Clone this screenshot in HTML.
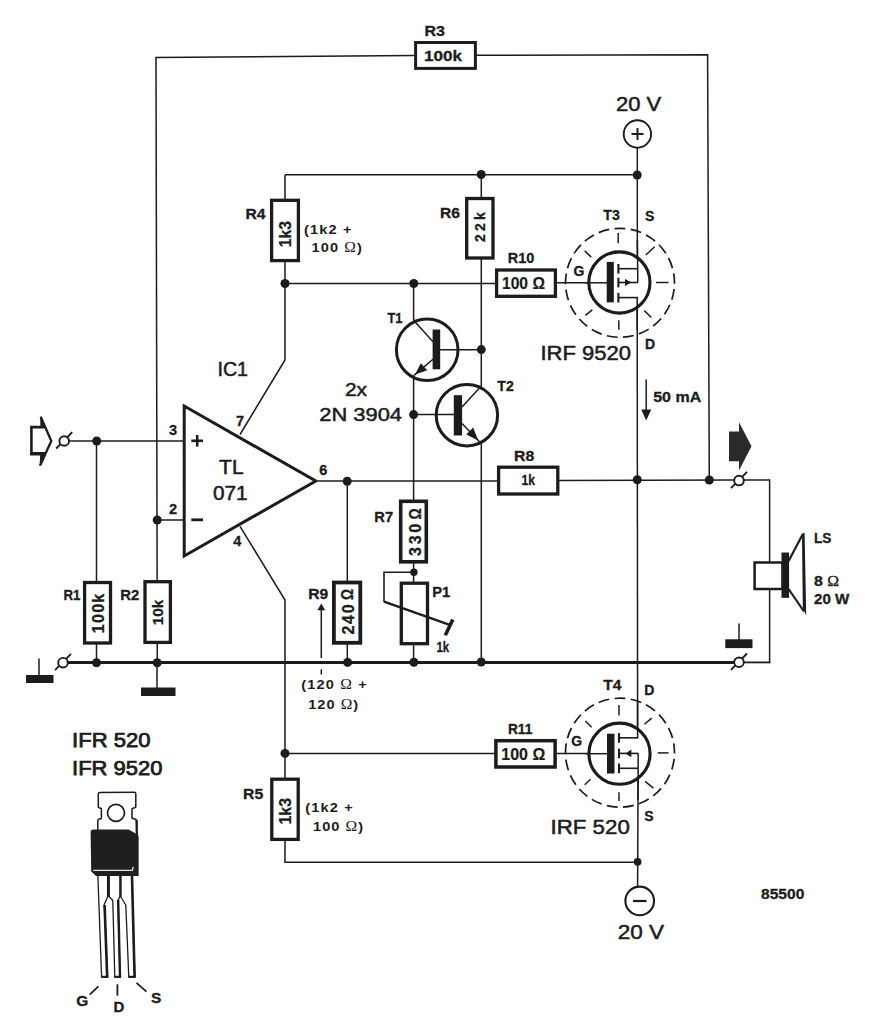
<!DOCTYPE html>
<html lang="en">
<head>
<meta charset="utf-8">
<title>IRF 520 / IRF 9520 MOSFET amplifier schematic</title>
<style>
html,body{margin:0;padding:0;background:#fff;}
body{width:874px;height:1024px;overflow:hidden;font-family:"Liberation Sans",sans-serif;}
svg{display:block;}
</style>
</head>
<body>
<svg width="874" height="1024" viewBox="0 0 874 1024" font-family="'Liberation Sans', sans-serif">
<rect x="0" y="0" width="874" height="1024" fill="#fff"/>
<g id="wires" stroke="#1c1c1c" fill="none" stroke-linecap="butt">
<polyline points="157.3,662.5 156,57.4 414,55.6" stroke-width="1.5" fill="none" />
<polyline points="476,55.2 707.6,54.7 709.3,480.5" stroke-width="1.5" fill="none" />
<line x1="637.3" y1="148" x2="637.3" y2="268" stroke-width="1.5" />
<line x1="285" y1="174.8" x2="637.3" y2="174.8" stroke-width="1.5" />
<line x1="285" y1="174.8" x2="285" y2="199" stroke-width="1.5" />
<line x1="285" y1="262" x2="285" y2="360" stroke-width="1.5" />
<line x1="285" y1="360" x2="240" y2="434.5" stroke-width="1.5" />
<line x1="285" y1="283.4" x2="496" y2="283.4" stroke-width="1.5" />
<line x1="557" y1="282.8" x2="608" y2="282.8" stroke-width="1.5" />
<line x1="481.3" y1="174.8" x2="481.3" y2="197" stroke-width="1.5" />
<line x1="481.3" y1="259" x2="481.3" y2="386" stroke-width="1.5" />
<line x1="481.3" y1="442" x2="481.3" y2="662.5" stroke-width="1.5" />
<line x1="413.6" y1="283.4" x2="413.6" y2="320" stroke-width="1.5" />
<line x1="413.6" y1="375.5" x2="413.6" y2="500" stroke-width="1.5" />
<line x1="413.6" y1="563" x2="413.6" y2="582" stroke-width="1.5" />
<line x1="413.6" y1="645" x2="413.6" y2="662.5" stroke-width="1.5" />
<line x1="440" y1="349.7" x2="481.3" y2="349.7" stroke-width="1.5" />
<line x1="413.6" y1="414.6" x2="454" y2="414.6" stroke-width="1.5" />
<line x1="68.5" y1="441" x2="183.5" y2="441" stroke-width="1.5" />
<line x1="96.5" y1="441" x2="96.5" y2="581" stroke-width="1.5" />
<line x1="96.5" y1="644" x2="96.5" y2="662.5" stroke-width="1.5" />
<line x1="157" y1="520" x2="183.5" y2="520" stroke-width="1.5" />
<line x1="318" y1="481" x2="497" y2="481" stroke-width="1.5" />
<line x1="559" y1="480.6" x2="734.5" y2="480" stroke-width="1.5" />
<line x1="743.5" y1="480" x2="769.6" y2="480" stroke-width="1.5" />
<line x1="769.6" y1="479.3" x2="769.6" y2="562" stroke-width="1.5" />
<line x1="769.6" y1="590" x2="769.6" y2="663.2" stroke-width="1.5" />
<line x1="347.3" y1="481" x2="347.3" y2="581" stroke-width="1.5" />
<line x1="347.3" y1="644" x2="347.3" y2="662.5" stroke-width="1.5" />
<line x1="637.2" y1="297.6" x2="637.6" y2="737.8" stroke-width="1.5" />
<line x1="638.2" y1="753.4" x2="637.6" y2="886" stroke-width="1.5" />
<polyline points="240,526.3 285,600 285,778" stroke-width="1.5" fill="none" />
<line x1="285" y1="841" x2="285" y2="862.3" stroke-width="1.5" />
<line x1="284.3" y1="862.3" x2="637.8" y2="862.3" stroke-width="1.5" />
<line x1="285" y1="753.5" x2="495" y2="753.5" stroke-width="1.5" />
<line x1="556" y1="753.5" x2="607" y2="753.5" stroke-width="1.5" />
<line x1="67.5" y1="662.6" x2="735" y2="662.4" stroke-width="3" />
<line x1="743.5" y1="662.4" x2="770.3" y2="662.4" stroke-width="1.8" />
<line x1="157" y1="662.5" x2="157" y2="688" stroke-width="1.5" />
<line x1="39" y1="658.5" x2="39" y2="676" stroke-width="1.5" />
<line x1="739" y1="623.5" x2="739" y2="640" stroke-width="1.5" />
</g>
<g fill="#1c1c1c" stroke="none">
<rect x="141" y="687.5" width="34.5" height="8.5"/>
<rect x="26" y="675" width="27.5" height="8"/>
<rect x="725.3" y="639.3" width="27.2" height="8.8"/>
</g>
<g id="res" stroke="#1c1c1c">
<rect x="415.6" y="42.5" width="59.8" height="25.9" fill="#fff" stroke-width="3.0"/>
<rect x="271.6" y="200.3" width="26.8" height="60.3" fill="#fff" stroke-width="3.3"/>
<rect x="466.7" y="198.5" width="26.3" height="59.5" fill="#fff" stroke-width="3.3"/>
<rect x="496.6" y="270" width="58.8" height="26.3" fill="#fff" stroke-width="3.3"/>
<rect x="498.6" y="467.2" width="59.2" height="26.8" fill="#fff" stroke-width="3.3"/>
<rect x="84.6" y="582.5" width="25.9" height="60.5" fill="#fff" stroke-width="3.3"/>
<rect x="145" y="581.7" width="25.4" height="60.7" fill="#fff" stroke-width="3.3"/>
<rect x="333.9" y="582.5" width="26.4" height="60.3" fill="#fff" stroke-width="3.8"/>
<rect x="400.7" y="501.3" width="25.6" height="60.5" fill="#fff" stroke-width="3.6"/>
<rect x="401.3" y="583.2" width="26.2" height="60.5" fill="#fff" stroke-width="3.3"/>
<rect x="495.9" y="740.7" width="59.2" height="26.3" fill="#fff" stroke-width="3.5"/>
<rect x="271.8" y="779.2" width="26.4" height="60.2" fill="#fff" stroke-width="3.3"/>
</g>
<g stroke="#1c1c1c" fill="none">
<polyline points="413.6,572.3 384,572.3 384,602" stroke-width="1.6" fill="none" />
<line x1="384" y1="601.6" x2="449" y2="624.6" stroke-width="2.4" />
<line x1="452.8" y1="619.5" x2="445.3" y2="635.3" stroke-width="3.6" />
</g>
<circle cx="481.2" cy="174.5" r="4.5" fill="#1c1c1c" stroke="none"/>
<circle cx="637.2" cy="175" r="4.5" fill="#1c1c1c" stroke="none"/>
<circle cx="285" cy="283.5" r="4.5" fill="#1c1c1c" stroke="none"/>
<circle cx="413.8" cy="283.5" r="4.5" fill="#1c1c1c" stroke="none"/>
<circle cx="481.3" cy="349.6" r="4.5" fill="#1c1c1c" stroke="none"/>
<circle cx="413.6" cy="414.6" r="4.5" fill="#1c1c1c" stroke="none"/>
<circle cx="96.7" cy="441" r="4.5" fill="#1c1c1c" stroke="none"/>
<circle cx="157.2" cy="520" r="4.5" fill="#1c1c1c" stroke="none"/>
<circle cx="347.2" cy="481.3" r="4.5" fill="#1c1c1c" stroke="none"/>
<circle cx="637.3" cy="479.8" r="4.5" fill="#1c1c1c" stroke="none"/>
<circle cx="709.3" cy="480" r="4.5" fill="#1c1c1c" stroke="none"/>
<circle cx="96.5" cy="662.7" r="4.5" fill="#1c1c1c" stroke="none"/>
<circle cx="157.2" cy="662.7" r="4.5" fill="#1c1c1c" stroke="none"/>
<circle cx="347.6" cy="662.4" r="4.5" fill="#1c1c1c" stroke="none"/>
<circle cx="413.9" cy="662.3" r="4.5" fill="#1c1c1c" stroke="none"/>
<circle cx="481.2" cy="662" r="4.5" fill="#1c1c1c" stroke="none"/>
<circle cx="285" cy="753.4" r="4.5" fill="#1c1c1c" stroke="none"/>
<circle cx="413.9" cy="572.3" r="3.7" fill="#1c1c1c" stroke="none"/>
<circle cx="637.6" cy="861.8" r="3.9" fill="#1c1c1c" stroke="none"/>
<g stroke="#1c1c1c" fill="none">
<line x1="56.2" y1="448.5" x2="72.2" y2="432.2" stroke-width="1.9" />
<circle cx="64.2" cy="441" r="4.8" fill="#fff" stroke-width="1.9"/>
<line x1="55" y1="670.2" x2="71" y2="653.9000000000001" stroke-width="1.9" />
<circle cx="63" cy="662.7" r="4.8" fill="#fff" stroke-width="1.9"/>
<line x1="731" y1="488.1" x2="747" y2="471.8" stroke-width="1.9" />
<circle cx="739" cy="480.6" r="4.8" fill="#fff" stroke-width="1.9"/>
<line x1="731" y1="669.8" x2="747" y2="653.5" stroke-width="1.9" />
<circle cx="739" cy="662.3" r="4.8" fill="#fff" stroke-width="1.9"/>
</g>
<g stroke="#1c1c1c" fill="#fff">
<circle cx="637.4" cy="134" r="13.7" stroke-width="1.9"/>
<circle cx="639.7" cy="900.9" r="14.3" stroke-width="2.1"/>
</g>
<g stroke="#1c1c1c" fill="none" stroke-width="2">
<line x1="631.5" y1="134" x2="643.5" y2="134" stroke-width="2" />
<line x1="637.5" y1="128" x2="637.5" y2="140" stroke-width="2" />
<line x1="633" y1="901" x2="646.5" y2="901" stroke-width="2.2" />
</g>
<polygon points="184.2,406 184.2,556 315.8,481" fill="#fff" stroke="#1c1c1c" stroke-width="3" stroke-linejoin="miter"/>
<g stroke="#1c1c1c" fill="none">
<line x1="191.3" y1="440.8" x2="203" y2="440.8" stroke-width="2.6" />
<line x1="197.2" y1="435" x2="197.2" y2="446.6" stroke-width="2.6" />
<line x1="191.3" y1="519.8" x2="203" y2="519.8" stroke-width="2.8" />
</g>
<g stroke="#1c1c1c" fill="none">
<circle cx="427.2" cy="349.8" r="30.8" stroke-width="3"/>
<line x1="413.6" y1="320.2" x2="433" y2="341.8" stroke-width="1.5" />
<line x1="433" y1="359.2" x2="414" y2="375.4" stroke-width="1.5" />
<rect x="432.6" y="329.5" width="7.6" height="39.8" fill="#1c1c1c" stroke="none"/>
<polygon points="415,374.6 420.8,363.3 427.3,370.2" fill="#1c1c1c" stroke="none"/>
<circle cx="466.9" cy="415.2" r="30.7" stroke-width="3"/>
<line x1="462" y1="407" x2="481.5" y2="385.8" stroke-width="1.5" />
<line x1="462" y1="423.4" x2="480" y2="442.2" stroke-width="1.5" />
<rect x="453.8" y="395.2" width="8.3" height="40.3" fill="#1c1c1c" stroke="none"/>
<polygon points="478.2,440.6 466.3,434.5 473.2,427.6" fill="#1c1c1c" stroke="none"/>
</g>
<g stroke="#1c1c1c" fill="none">
<circle cx="619.4" cy="282.5" r="30.6" stroke-width="3.1" fill="#fff"/>
<circle cx="620" cy="282.8" r="54.5" stroke-width="1.7" stroke-dasharray="10.9 5.406" stroke-dashoffset="10"/>
<line x1="618.2" y1="233" x2="618.2" y2="243.3" stroke-width="1.5" />
<line x1="618.8" y1="320.2" x2="618.8" y2="329.8" stroke-width="1.5" />
<line x1="656.1" y1="282.5" x2="668.5" y2="282.5" stroke-width="1.5" />
<line x1="584.7" y1="250.9" x2="591.3" y2="257.1" stroke-width="1.5" />
<line x1="645.8" y1="255" x2="654.7" y2="246.8" stroke-width="1.5" />
<line x1="644.4" y1="310.6" x2="651.3" y2="317.5" stroke-width="1.5" />
<line x1="585.4" y1="315.4" x2="592.3" y2="309.9" stroke-width="1.5" />
<line x1="585.4" y1="282.8" x2="607.7" y2="282.8" stroke-width="1.5" />
<rect x="606.7" y="261.9" width="7.1" height="40.5" fill="#1c1c1c" stroke="none"/>
<line x1="618.4" y1="264.0" x2="618.4" y2="273.59999999999997" stroke-width="2.1" />
<line x1="618.4" y1="268.7" x2="638.0" y2="268.7" stroke-width="1.6" />
<line x1="618.4" y1="277.8" x2="618.4" y2="287.4" stroke-width="2.1" />
<line x1="618.4" y1="282.5" x2="638.0" y2="282.5" stroke-width="1.6" />
<line x1="618.4" y1="292.90000000000003" x2="618.4" y2="302.5" stroke-width="2.1" />
<line x1="618.4" y1="297.6" x2="638.0" y2="297.6" stroke-width="1.6" />
<polygon points="631.4,282.5 625.0,279.1 625.0,285.9" fill="#1c1c1c" stroke="none"/>
</g>
<g stroke="#1c1c1c" fill="none">
<circle cx="619.5" cy="753.7" r="30.6" stroke-width="3.1" fill="#fff"/>
<circle cx="620" cy="752.7" r="54.5" stroke-width="1.7" stroke-dasharray="10.9 5.406" stroke-dashoffset="10"/>
<line x1="619" y1="705.1" x2="619" y2="715.4" stroke-width="1.5" />
<line x1="619" y1="792.3" x2="619" y2="800.9" stroke-width="1.5" />
<line x1="657.8" y1="752.9" x2="668.5" y2="752.9" stroke-width="1.5" />
<line x1="585.4" y1="720.9" x2="591.6" y2="727.3" stroke-width="1.5" />
<line x1="644.4" y1="724.3" x2="651.7" y2="718.1" stroke-width="1.5" />
<line x1="645.1" y1="781.3" x2="653.4" y2="788.2" stroke-width="1.5" />
<line x1="584.7" y1="784.7" x2="590.5" y2="779.3" stroke-width="1.5" />
<line x1="585.5" y1="753.6999999999999" x2="608" y2="753.6999999999999" stroke-width="1.5" />
<rect x="607" y="733.7" width="7.5" height="39.8" fill="#1c1c1c" stroke="none"/>
<line x1="619" y1="733.0999999999999" x2="619" y2="742.6999999999999" stroke-width="2.1" />
<line x1="619" y1="737.8" x2="638.3000000000001" y2="737.8" stroke-width="1.6" />
<line x1="619" y1="748.6999999999999" x2="619" y2="758.3" stroke-width="2.1" />
<line x1="619" y1="753.4" x2="638.3000000000001" y2="753.4" stroke-width="1.6" />
<line x1="619" y1="763.5999999999999" x2="619" y2="773.1999999999999" stroke-width="2.1" />
<line x1="619" y1="768.3" x2="638.3000000000001" y2="768.3" stroke-width="1.6" />
<polygon points="625.4,753.4 631.4,749.5 631.4,757.3" fill="#1c1c1c" stroke="none"/>
</g>
<g stroke="#1c1c1c" fill="none">
<line x1="637.4" y1="240" x2="637.8" y2="282.5" stroke-width="1.5" />
<line x1="637.2" y1="297.6" x2="637.23" y2="330" stroke-width="1.5" />
<line x1="637.57" y1="700" x2="637.6" y2="737.8" stroke-width="1.5" />
<line x1="638.2" y1="753.4" x2="637.99" y2="800" stroke-width="1.5" />
</g>
<g stroke="#1c1c1c" fill="none">
<line x1="646.2" y1="379.5" x2="646.2" y2="411" stroke-width="1.5" />
<polygon points="646.2,420.6 641.2,409.6 651.2,409.6" fill="#1c1c1c" stroke="none"/>
<line x1="321.3" y1="609" x2="321.3" y2="658" stroke-width="1.5" />
<line x1="321.3" y1="669.3" x2="321.3" y2="674.5" stroke-width="1.5" />
<polygon points="321.3,603.6 317.4,610.2 325.2,610.2" fill="#1c1c1c" stroke="none"/>
</g>
<g stroke="#1c1c1c" fill="none">
<polyline points="44.6,427.1 31.4,427.1 31.4,453.4 45,453.4" stroke-width="2.6" fill="none" />
<line x1="30.1" y1="453.9" x2="45.2" y2="453.9" stroke-width="3.2" />
<polyline points="40.7,416.8 51.3,441 40.1,465.6" stroke-width="2.3" fill="none" />
<polygon points="40.2,416 45.6,427.4 40.4,427.4" fill="#1c1c1c" stroke="none"/>
<polygon points="39.6,466.4 45.8,453.6 40.2,453.6" fill="#1c1c1c" stroke="none"/>
</g>
<polygon points="729,431.6 739,431.6 739,422.2 751.5,446.3 739,470.6 739,461.3 729,461.3" fill="#2a2a2a"/>
<g stroke="#1c1c1c" fill="none">
<rect x="754.6" y="562.5" width="28" height="26.5" fill="#fff" stroke-width="2.5"/>
<rect x="781.5" y="552.5" width="7.6" height="45.3" fill="#1c1c1c" stroke="none"/>
<polyline points="788.6,561 802.6,534.5" stroke-width="2.2" fill="none" />
<polyline points="788.6,589 804,611.5" stroke-width="2.2" fill="none" />
<polygon points="802,533.5 804.6,533 806.2,615.5 802.8,608" fill="#1c1c1c" stroke="none"/>
</g>
<g id="to220" stroke="#1c1c1c" stroke-linejoin="round">
<path d="M98.3,794 Q98.3,792.6 99.8,792.6 L134.2,792.2 Q135.8,792.2 135.8,793.8 V806.6 Q135.6,808 132,808.4 V818.2 Q136.6,819 136.8,821 V836 H97.8 V820.6 Q98,819 101.4,818.6 V808.6 Q98.3,808 98.3,806.6 Z" fill="#fff" stroke-width="1.5"/>
<line x1="136.5" y1="820" x2="136.8" y2="836" stroke-width="2.2" />
<circle cx="116" cy="812.8" r="8.5" fill="#fff" stroke-width="1.7"/>
<path d="M97.8,874 L101.6,977.2 H107.6 L104.2,904.5 L107.6,897 V874 Z" fill="#fff" stroke-width="1.3"/>
<path d="M109.2,874 V896.6 L112.8,900.5 L114.8,977.2 H120.2 L117.8,900.5 L120,896.6 V874 Z" fill="#fff" stroke-width="1.3"/>
<path d="M120.9,874 V897 L125.8,905 L128.8,977.2 H134.8 L131.8,874 Z" fill="#fff" stroke-width="1.3"/>
<line x1="104.6" y1="905" x2="107.2" y2="977.6" stroke-width="2.6" />
<line x1="118.2" y1="900" x2="120" y2="977.6" stroke-width="2.4" />
<line x1="132" y1="876" x2="134.6" y2="977.6" stroke-width="2.6" />
<line x1="101.2" y1="976.8" x2="108" y2="976.8" stroke-width="2" />
<line x1="114.4" y1="976.8" x2="120.6" y2="976.8" stroke-width="2" />
<line x1="128.4" y1="976.8" x2="135.2" y2="976.8" stroke-width="2" />
<line x1="108.4" y1="874" x2="108.4" y2="897" stroke-width="2.2" />
<line x1="120.4" y1="874" x2="120.4" y2="897" stroke-width="1.8" />
<path d="M90.6,832.2 Q90.6,829.4 93.4,829.4 H128.6 L137.4,834.6 L138.6,836.5 V876 H96 L91.2,871.5 Z" fill="#1f1f1f" stroke="none"/>
<path d="M93.2,870.3 H132.4 L133.2,866.8" fill="none" stroke="#e6e6e6" stroke-width="1.3"/>
</g>
<g stroke="#1c1c1c" fill="none">
<line x1="98.4" y1="986.4" x2="89.7" y2="994.6" stroke-width="1.8" />
<line x1="117.4" y1="984.3" x2="117.4" y2="995.7" stroke-width="1.8" />
<line x1="136.5" y1="982.8" x2="146.4" y2="991.6" stroke-width="1.8" />
</g>
<g fill="#1c1c1c" stroke="none" font-family="'Liberation Sans', sans-serif">
<text transform="translate(424.5,35.8)" font-size="14" font-weight="bold" text-anchor="start" textLength="20.5" lengthAdjust="spacingAndGlyphs"  stroke="#1c1c1c" stroke-width="0.3">R3</text>
<text transform="translate(424,60.6)" font-size="14" font-weight="bold" text-anchor="start" textLength="38" lengthAdjust="spacingAndGlyphs"  stroke="#1c1c1c" stroke-width="0.3">100k</text>
<text transform="translate(616,111.2)" font-size="20" font-weight="normal" text-anchor="start" textLength="45.3" lengthAdjust="spacingAndGlyphs"  stroke="#1c1c1c" stroke-width="0.5">20 V</text>
<text transform="translate(245.4,219)" font-size="14" font-weight="bold" text-anchor="start" textLength="20" lengthAdjust="spacingAndGlyphs"  stroke="#1c1c1c" stroke-width="0.3">R4</text>
<text transform="translate(291.3,247.3) rotate(-90)" font-size="16" font-weight="bold" text-anchor="start" textLength="26.4" lengthAdjust="spacingAndGlyphs"  stroke="#1c1c1c" stroke-width="0.25">1k3</text>
<text transform="translate(304,233.9) scale(1.12,1)" font-size="13" font-weight="bold" text-anchor="start" textLength="42.5" lengthAdjust="spacing"  stroke="#1c1c1c" stroke-width="0">(1k2 +</text>
<text transform="translate(311.4,252) scale(1.12,1)" font-size="13" font-weight="bold" text-anchor="start" textLength="45.18" lengthAdjust="spacing"  stroke="#1c1c1c" stroke-width="0">100 <tspan font-family="Liberation Serif, serif" font-weight="normal" font-size="14">Ω</tspan>)</text>
<text transform="translate(440,217.8)" font-size="14" font-weight="bold" text-anchor="start" textLength="20" lengthAdjust="spacingAndGlyphs"  stroke="#1c1c1c" stroke-width="0.3">R6</text>
<text transform="translate(484.8,242.1) rotate(-90)" font-size="14" font-weight="bold" text-anchor="start" textLength="29.8" lengthAdjust="spacing"  stroke="#1c1c1c" stroke-width="0.3">22k</text>
<text transform="translate(507.7,263.4)" font-size="14" font-weight="bold" text-anchor="start" textLength="26.5" lengthAdjust="spacingAndGlyphs"  stroke="#1c1c1c" stroke-width="0.3">R10</text>
<text transform="translate(502,289.2)" font-size="16" font-weight="bold" text-anchor="start" textLength="42.9" lengthAdjust="spacingAndGlyphs"  stroke="#1c1c1c" stroke-width="0.2">100 Ω</text>
<text transform="translate(603.3,220.2)" font-size="14" font-weight="bold" text-anchor="start" textLength="16.5" lengthAdjust="spacingAndGlyphs"  stroke="#1c1c1c" stroke-width="0.3">T3</text>
<text transform="translate(645,221.4)" font-size="14" font-weight="bold" text-anchor="start"  stroke="#1c1c1c" stroke-width="0.3">S</text>
<text transform="translate(573.6,276)" font-size="14" font-weight="bold" text-anchor="start"  stroke="#1c1c1c" stroke-width="0.3">G</text>
<text transform="translate(645,349)" font-size="14" font-weight="bold" text-anchor="start"  stroke="#1c1c1c" stroke-width="0.3">D</text>
<text transform="translate(540.4,359.8)" font-size="19.5" font-weight="normal" text-anchor="start" textLength="90.6" lengthAdjust="spacingAndGlyphs"  stroke="#1c1c1c" stroke-width="0.5">IRF 9520</text>
<text transform="translate(387.5,322.5)" font-size="14" font-weight="bold" text-anchor="start" textLength="15" lengthAdjust="spacingAndGlyphs"  stroke="#1c1c1c" stroke-width="0.3">T1</text>
<text transform="translate(497.3,390.7)" font-size="14" font-weight="bold" text-anchor="start" textLength="16.4" lengthAdjust="spacingAndGlyphs"  stroke="#1c1c1c" stroke-width="0.3">T2</text>
<text transform="translate(345,395.8)" font-size="19" font-weight="normal" text-anchor="start" textLength="22" lengthAdjust="spacingAndGlyphs"  stroke="#1c1c1c" stroke-width="0.5">2x</text>
<text transform="translate(319.2,421)" font-size="19" font-weight="normal" text-anchor="start" textLength="82.8" lengthAdjust="spacingAndGlyphs"  stroke="#1c1c1c" stroke-width="0.5">2N 3904</text>
<text transform="translate(653.2,402)" font-size="14" font-weight="bold" text-anchor="start" textLength="48" lengthAdjust="spacingAndGlyphs"  stroke="#1c1c1c" stroke-width="0.3">50 mA</text>
<text transform="translate(217.4,376)" font-size="19.5" font-weight="normal" text-anchor="start" textLength="30.7" lengthAdjust="spacingAndGlyphs"  stroke="#1c1c1c" stroke-width="0.5">IC1</text>
<text transform="translate(219.1,474.2)" font-size="19.5" font-weight="normal" text-anchor="start" textLength="24.5" lengthAdjust="spacingAndGlyphs"  stroke="#1c1c1c" stroke-width="0.5">TL</text>
<text transform="translate(212.9,500.3)" font-size="19.5" font-weight="normal" text-anchor="start" textLength="34.7" lengthAdjust="spacingAndGlyphs"  stroke="#1c1c1c" stroke-width="0.5">071</text>
<text transform="translate(169,435)" font-size="14.5" font-weight="bold" text-anchor="start"  stroke="#1c1c1c" stroke-width="0.3">3</text>
<text transform="translate(169,513.8)" font-size="14.5" font-weight="bold" text-anchor="start"  stroke="#1c1c1c" stroke-width="0.3">2</text>
<text transform="translate(236,425.6)" font-size="14.5" font-weight="bold" text-anchor="start"  stroke="#1c1c1c" stroke-width="0.3">7</text>
<text transform="translate(319.3,475.2)" font-size="14.5" font-weight="bold" text-anchor="start"  stroke="#1c1c1c" stroke-width="0.3">6</text>
<text transform="translate(233.2,546.4)" font-size="14.5" font-weight="bold" text-anchor="start"  stroke="#1c1c1c" stroke-width="0.3">4</text>
<text transform="translate(514,461.2)" font-size="14" font-weight="bold" text-anchor="start" textLength="20.2" lengthAdjust="spacingAndGlyphs"  stroke="#1c1c1c" stroke-width="0.3">R8</text>
<text transform="translate(521.5,485.2)" font-size="14" font-weight="bold" text-anchor="start" textLength="13.5" lengthAdjust="spacingAndGlyphs"  stroke="#1c1c1c" stroke-width="0.3">1k</text>
<text transform="translate(63.4,600.3)" font-size="14" font-weight="bold" text-anchor="start" textLength="17" lengthAdjust="spacingAndGlyphs"  stroke="#1c1c1c" stroke-width="0.3">R1</text>
<text transform="translate(120.3,600.3)" font-size="14" font-weight="bold" text-anchor="start" textLength="19" lengthAdjust="spacingAndGlyphs"  stroke="#1c1c1c" stroke-width="0.3">R2</text>
<text transform="translate(103.8,633.2) rotate(-90)" font-size="16" font-weight="bold" text-anchor="start" textLength="39.4" lengthAdjust="spacing"  stroke="#1c1c1c" stroke-width="0.3">100k</text>
<text transform="translate(162.8,625.3) rotate(-90)" font-size="15.5" font-weight="bold" text-anchor="start" textLength="25.6" lengthAdjust="spacingAndGlyphs"  stroke="#1c1c1c" stroke-width="0.3">10k</text>
<text transform="translate(374.3,522)" font-size="14" font-weight="bold" text-anchor="start" textLength="18.8" lengthAdjust="spacingAndGlyphs"  stroke="#1c1c1c" stroke-width="0.3">R7</text>
<text transform="translate(420.8,555.9) rotate(-90)" font-size="16" font-weight="bold" text-anchor="start" textLength="32" lengthAdjust="spacing"  stroke="#1c1c1c" stroke-width="0.3">330</text>
<text transform="translate(420.8,519.5) rotate(-90)" font-size="16" font-weight="bold" text-anchor="start" textLength="11.2" lengthAdjust="spacingAndGlyphs"  stroke="#1c1c1c" stroke-width="0.3">Ω</text>
<text transform="translate(308.3,598.7)" font-size="14" font-weight="bold" text-anchor="start" textLength="20" lengthAdjust="spacingAndGlyphs"  stroke="#1c1c1c" stroke-width="0.3">R9</text>
<text transform="translate(353.5,634.6) rotate(-90)" font-size="16" font-weight="bold" text-anchor="start" textLength="30.2" lengthAdjust="spacing"  stroke="#1c1c1c" stroke-width="0.3">240</text>
<text transform="translate(353.3,599.9) rotate(-90)" font-size="16" font-weight="bold" text-anchor="start" textLength="11" lengthAdjust="spacingAndGlyphs"  stroke="#1c1c1c" stroke-width="0.3">Ω</text>
<text transform="translate(432.3,597)" font-size="14" font-weight="bold" text-anchor="start" textLength="18" lengthAdjust="spacingAndGlyphs"  stroke="#1c1c1c" stroke-width="0.3">P1</text>
<text transform="translate(436.4,652.4)" font-size="14.5" font-weight="bold" text-anchor="start" textLength="12.8" lengthAdjust="spacingAndGlyphs"  stroke="#1c1c1c" stroke-width="0.3">1k</text>
<text transform="translate(301.3,689.4) scale(1.12,1)" font-size="13" font-weight="bold" text-anchor="start" textLength="58.48" lengthAdjust="spacing"  stroke="#1c1c1c" stroke-width="0">(120 <tspan font-family="Liberation Serif, serif" font-weight="normal" font-size="14">Ω</tspan> +</text>
<text transform="translate(308.2,708.6) scale(1.12,1)" font-size="13" font-weight="bold" text-anchor="start" textLength="44.64" lengthAdjust="spacing"  stroke="#1c1c1c" stroke-width="0">120 <tspan font-family="Liberation Serif, serif" font-weight="normal" font-size="14">Ω</tspan>)</text>
<text transform="translate(814,543.4)" font-size="14" font-weight="bold" text-anchor="start" textLength="17.5" lengthAdjust="spacingAndGlyphs"  stroke="#1c1c1c" stroke-width="0.3">LS</text>
<text transform="translate(814,585.6)" font-size="14" font-weight="bold" text-anchor="start" textLength="25" lengthAdjust="spacingAndGlyphs"  stroke="#1c1c1c" stroke-width="0.3">8 <tspan font-family="Liberation Serif, serif" font-weight="normal" font-size="14">Ω</tspan></text>
<text transform="translate(814,604.4)" font-size="14" font-weight="bold" text-anchor="start" textLength="35.3" lengthAdjust="spacingAndGlyphs"  stroke="#1c1c1c" stroke-width="0.3">20 W</text>
<text transform="translate(507.9,734.4)" font-size="14.5" font-weight="bold" text-anchor="start" textLength="24.5" lengthAdjust="spacingAndGlyphs"  stroke="#1c1c1c" stroke-width="0.3">R11</text>
<text transform="translate(501.3,759.6)" font-size="16" font-weight="bold" text-anchor="start" textLength="43.9" lengthAdjust="spacingAndGlyphs"  stroke="#1c1c1c" stroke-width="0.2">100 Ω</text>
<text transform="translate(603.3,690.2)" font-size="14" font-weight="bold" text-anchor="start" textLength="18.2" lengthAdjust="spacingAndGlyphs"  stroke="#1c1c1c" stroke-width="0.3">T4</text>
<text transform="translate(644.2,695.2)" font-size="14" font-weight="bold" text-anchor="start"  stroke="#1c1c1c" stroke-width="0.3">D</text>
<text transform="translate(571.2,745.6)" font-size="14" font-weight="bold" text-anchor="start"  stroke="#1c1c1c" stroke-width="0.3">G</text>
<text transform="translate(644.2,821.1)" font-size="14" font-weight="bold" text-anchor="start"  stroke="#1c1c1c" stroke-width="0.3">S</text>
<text transform="translate(550.5,833.7)" font-size="19.5" font-weight="normal" text-anchor="start" textLength="79.3" lengthAdjust="spacingAndGlyphs"  stroke="#1c1c1c" stroke-width="0.5">IRF 520</text>
<text transform="translate(243,798.6)" font-size="14" font-weight="bold" text-anchor="start" textLength="20.2" lengthAdjust="spacingAndGlyphs"  stroke="#1c1c1c" stroke-width="0.3">R5</text>
<text transform="translate(291.4,824.5) rotate(-90)" font-size="16" font-weight="bold" text-anchor="start" textLength="26.5" lengthAdjust="spacingAndGlyphs"  stroke="#1c1c1c" stroke-width="0.25">1k3</text>
<text transform="translate(305.2,812.4) scale(1.12,1)" font-size="13" font-weight="bold" text-anchor="start" textLength="42.41" lengthAdjust="spacing"  stroke="#1c1c1c" stroke-width="0">(1k2 +</text>
<text transform="translate(313,831.2) scale(1.12,1)" font-size="13" font-weight="bold" text-anchor="start" textLength="44.73" lengthAdjust="spacing"  stroke="#1c1c1c" stroke-width="0">100 <tspan font-family="Liberation Serif, serif" font-weight="normal" font-size="14">Ω</tspan>)</text>
<text transform="translate(617.7,939.2)" font-size="20" font-weight="normal" text-anchor="start" textLength="46.4" lengthAdjust="spacingAndGlyphs"  stroke="#1c1c1c" stroke-width="0.5">20 V</text>
<text transform="translate(761,899.1)" font-size="14.5" font-weight="bold" text-anchor="start" textLength="43.3" lengthAdjust="spacingAndGlyphs"  stroke="#1c1c1c" stroke-width="0.3">85500</text>
<text transform="translate(72.1,747.3)" font-size="19.5" font-weight="normal" text-anchor="start" textLength="78.4" lengthAdjust="spacingAndGlyphs" stroke="#1c1c1c" stroke-width="0.75">IFR 520</text>
<text transform="translate(72.1,774.9)" font-size="19.5" font-weight="normal" text-anchor="start" textLength="90.3" lengthAdjust="spacingAndGlyphs" stroke="#1c1c1c" stroke-width="0.75">IFR 9520</text>
<text transform="translate(76.2,1005.6)" font-size="15.5" font-weight="bold" text-anchor="start"  stroke="#1c1c1c" stroke-width="0.3">G</text>
<text transform="translate(113.6,1011.8)" font-size="15" font-weight="bold" text-anchor="start"  stroke="#1c1c1c" stroke-width="0.3">D</text>
<text transform="translate(150.9,1003.2)" font-size="15.5" font-weight="bold" text-anchor="start"  stroke="#1c1c1c" stroke-width="0.3">S</text>
</g>
</svg>
</body>
</html>
